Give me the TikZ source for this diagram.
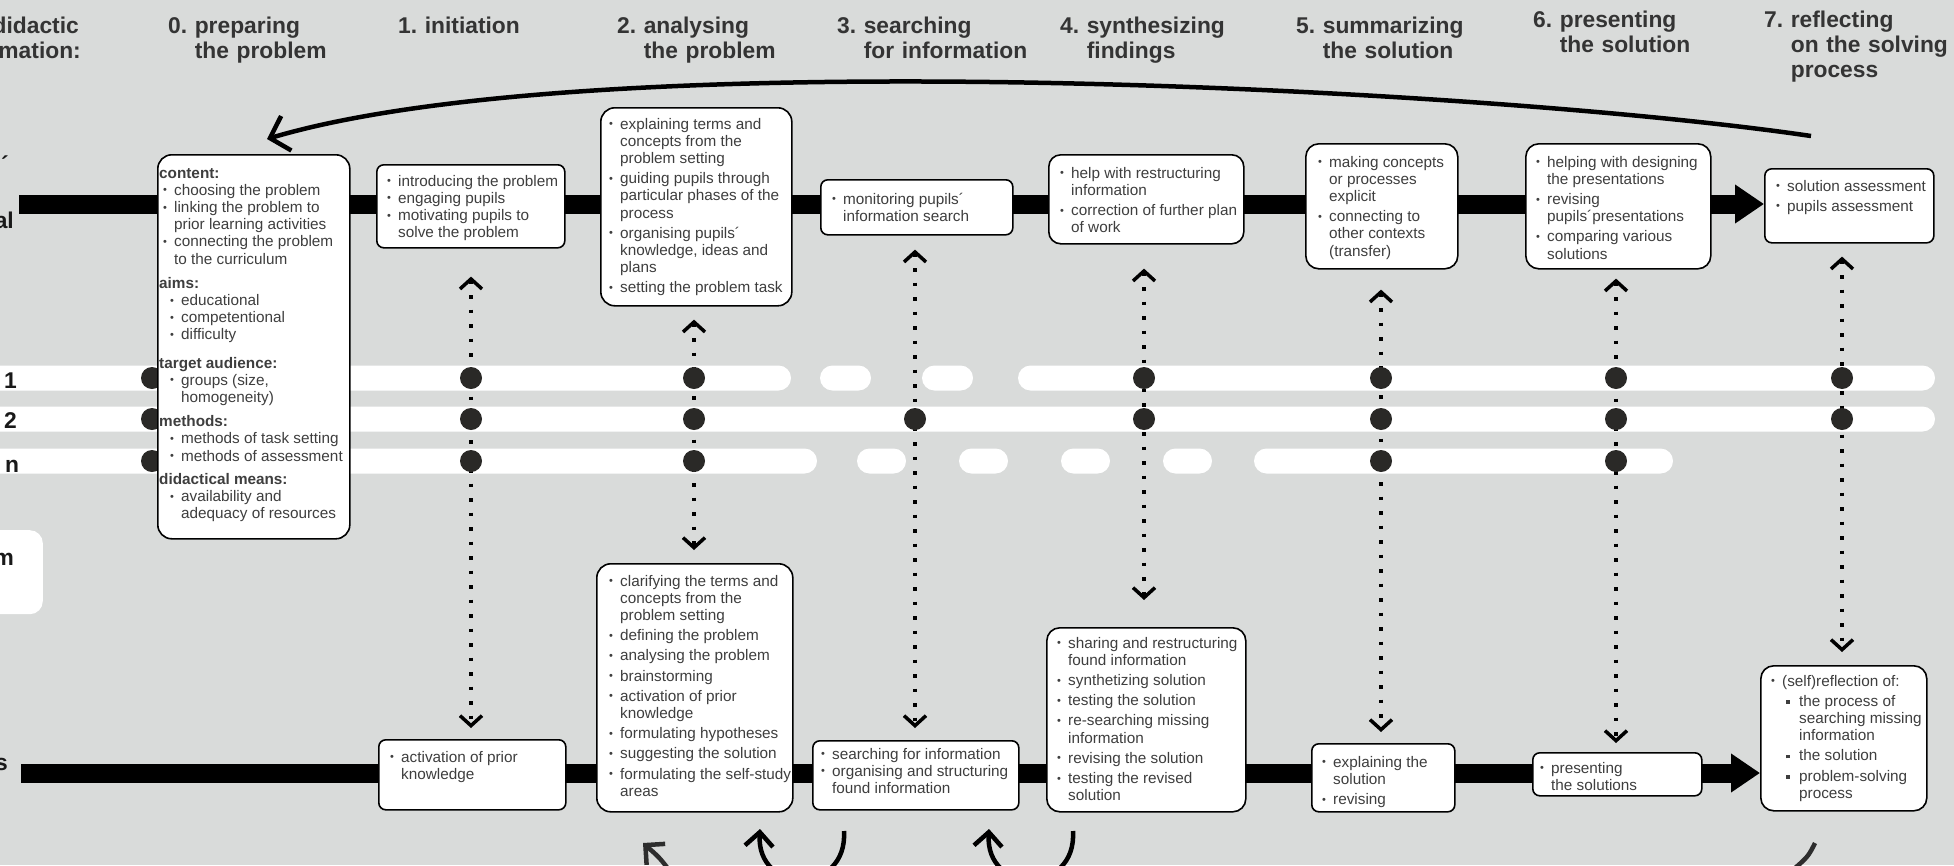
\documentclass[tikz,border=0pt]{standalone}
\usepackage{fontspec}
\setmainfont{Liberation Sans}
\usepackage{graphicx}
\usetikzlibrary{arrows.meta}
\frenchspacing
\definecolor{bgc}{RGB}{217,219,218}
\definecolor{txtc}{RGB}{62,62,62}
\definecolor{hdrc}{RGB}{52,52,52}
\definecolor{dotc}{RGB}{42,41,39}
\definecolor{arcc}{RGB}{45,45,45}
\pgfdeclarelayer{back}
\pgfdeclarelayer{mid}
\pgfsetlayers{back,mid,main}
\newcommand\bt{\makebox[11pt][l]{\raisebox{1.3pt}{\scalebox{0.72}{\textbullet}}}}
\newcommand\itmx[2]{\par\hangindent=\dimexpr#1+11pt\relax\hangafter=1\noindent\hspace*{#1}\bt#2}
\newcommand\itm[1]{\itmx{0pt}{#1}}
\newcommand\sitm[1]{\par\hangindent=28pt\hangafter=1\noindent\hspace*{15pt}\makebox[13pt][l]{\rule[2.5pt]{3.5pt}{3.5pt}}#1}
\newcommand\hd[1]{\par\noindent\textbf{#1}}
\newcommand\gp[1][3pt]{\par\vspace{#1}}
\newcommand\nl{\hfil\break}
\newcommand\bxt[1]{\parbox[t]{230pt}{\raggedright\hbadness=10000 #1}}
\begin{document}
\begin{tikzpicture}[x=1pt,y=-1pt,
  pbox/.style={draw=black, line width=1.6pt, fill=white, inner sep=0pt, anchor=north west, rounded corners=#1},
  pbox/.default=13pt,
  btxt/.style={inner sep=0pt, anchor=base west, text=txtc, font=\fontsize{15.3}{17.2}\selectfont},
  hdr/.style={inner sep=0pt, anchor=base west, text width=260pt, align=left, text=hdrc, font=\bfseries\fontsize{22.8}{25}\selectfont},
  sidelbl/.style={inner sep=0pt, text=black!90, font=\bfseries\fontsize{22.8}{25}\selectfont},
  dotn/.style={circle, fill=dotc, inner sep=0pt, minimum size=22pt},
  band/.style={fill=white, rounded corners=12.5pt},
  dotconn/.style={line width=3.5pt, dash pattern=on 3.5pt off 11pt, arrows={Straight Barb[length=10pt,width=22pt]-Straight Barb[length=10pt,width=22pt]}},
  tlbar/.style={line width=19pt, arrows={-Triangle[length=29pt,width=37pt]}},
  bigarc/.style={line width=4.5pt, arrows={-Straight Barb[length=17pt,width=36pt]}},
  barb/.style={line width=4.5pt, arrows={-Straight Barb[length=14pt,width=28pt]}}
]
\useasboundingbox (0,0) rectangle (1954,865);
\begin{pgfonlayer}{back}
\fill[bgc] (0,0) rectangle (1954,865);
\end{pgfonlayer}

% columns and rows
\coordinate (c0) at (152,0);
\coordinate (c1) at (471,0);
\coordinate (c2) at (694,0);
\coordinate (c3) at (915,0);
\coordinate (c4) at (1144,0);
\coordinate (c5) at (1381,0);
\coordinate (c6) at (1616,0);
\coordinate (c7) at (1842,0);
\coordinate (r1) at (0,378);
\coordinate (r2) at (0,419);
\coordinate (rn) at (0,461);

% boxes
\node[pbox=14pt, minimum width=192pt, minimum height=384pt] (t0) at (157,154) {};
\node[pbox=7pt, minimum width=188pt, minimum height=83pt] (t1) at (376,164) {};
\node[pbox=14pt, minimum width=191pt, minimum height=198pt] (t2) at (600,107) {};
\node[pbox=7pt, minimum width=192pt, minimum height=55pt] (t3) at (820,179) {};
\node[pbox=12pt, minimum width=195pt, minimum height=89pt] (t4) at (1048,154) {};
\node[pbox=13pt, minimum width=152pt, minimum height=125pt] (t5) at (1305,143) {};
\node[pbox=13pt, minimum width=185pt, minimum height=125pt] (t6) at (1525,143) {};
\node[pbox=7pt, minimum width=169pt, minimum height=74pt] (t7) at (1764,168) {};
\node[pbox=7pt, minimum width=187pt, minimum height=70pt] (b1) at (378,739) {};
\node[pbox=14pt, minimum width=196pt, minimum height=248pt] (b2) at (596,563) {};
\node[pbox=7pt, minimum width=206pt, minimum height=69pt] (b3) at (812,740) {};
\node[pbox=13pt, minimum width=199pt, minimum height=184pt] (b4) at (1046,627) {};
\node[pbox=7pt, minimum width=143pt, minimum height=68pt] (b5) at (1311,743) {};
\node[pbox=7pt, minimum width=169pt, minimum height=43pt] (b6) at (1532,752) {};
\node[pbox=13pt, minimum width=166pt, minimum height=145pt] (b7) at (1760,665) {};

\begin{pgfonlayer}{mid}
% left white box
\node[fill=white, rounded corners=13pt, minimum width=90pt, minimum height=84pt, anchor=north east, inner sep=0pt] (lbox) at (43,530) {};
% bands
\fill[band] (-40,365.5) rectangle (791,390.5);
\fill[band] (820,365.5) rectangle (871,390.5);
\fill[band] (922,365.5) rectangle (973,390.5);
\fill[band] (1018,365.5) rectangle (1935,390.5);
\fill[band] (-40,406.5) rectangle (1935,431.5);
\fill[band] (-40,448.5) rectangle (817,473.5);
\fill[band] (857,448.5) rectangle (906,473.5);
\fill[band] (959,448.5) rectangle (1008,473.5);
\fill[band] (1061,448.5) rectangle (1110,473.5);
\fill[band] (1163,448.5) rectangle (1212,473.5);
\fill[band] (1254,448.5) rectangle (1673,473.5);
% dotted connectors
\draw[dotconn, shorten <=28pt, shorten >=11pt] (t1.south -| c1) -- (b1.north -| c1);
\draw[dotconn, shorten <=13pt, shorten >=13pt] (t2.south -| c2) -- (b2.north -| c2);
\draw[dotconn, shorten <=14pt, shorten >=12pt] (t3.south -| c3) -- (b3.north -| c3);
\draw[dotconn, shorten <=24pt, shorten >=27pt] (t4.south -| c4) -- (b4.north -| c4);
\draw[dotconn, shorten <=20pt, shorten >=11pt] (t5.south -| c5) -- (b5.north -| c5);
\draw[dotconn, shorten <=9pt, shorten >=9pt] (t6.south -| c6) -- (b6.north -| c6);
\draw[dotconn, shorten <=13pt, shorten >=13pt] (t7.south -| c7) -- (b7.north -| c7);
% dots
\foreach \c in {0,1,2,4,5,6,7} { \node[dotn] (d1\c) at (c\c |- r1) {}; }
\foreach \c in {0,1,2,3,4,5,6,7} { \node[dotn] (d2\c) at (c\c |- r2) {}; }
\foreach \c in {0,1,2,5,6} { \node[dotn] (dn\c) at (c\c |- rn) {}; }
% timeline bars
\coordinate (tbs) at (19,204);
\coordinate (bbs) at (21,773);
\draw[tlbar] (tbs) -- (t7.west |- tbs);
\draw[tlbar] (bbs) -- (b7.west |- bbs);
\end{pgfonlayer}

% box texts
\node[btxt] (t0x) at (159,178) {\bxt{\hd{content:}
\itmx{4pt}{choosing the problem}
\itmx{4pt}{linking the problem to\nl prior learning activities}
\itmx{4pt}{connecting the problem\nl to the curriculum}
\gp[7pt]\hd{aims:}
\itmx{11pt}{educational}
\itmx{11pt}{competentional}
\itmx{11pt}{difficulty}
\gp[11pt]\hd{target audience:}
\itmx{11pt}{groups (size,\nl homogeneity)}
\gp[7pt]\hd{methods:}
\itmx{11pt}{methods of task setting}
\itmx{11pt}{methods of assessment}
\gp[6pt]\hd{didactical means:}
\itmx{11pt}{availability and\nl adequacy of resources}}};
\node[btxt] (t1x) at (387,186) {\bxt{\itm{introducing the problem}\itm{engaging pupils}\itm{motivating pupils to\nl solve the problem}}};
\node[btxt] (t2x) at (609,129) {\bxt{\itm{explaining terms and\nl concepts from the\nl problem setting}\gp\itm{guiding pupils through\nl particular phases of the\nl process}\gp\itm{organising pupils´\nl knowledge, ideas and\nl plans}\gp\itm{setting the problem task}}};
\node[btxt] (t3x) at (832,204) {\bxt{\itm{monitoring pupils´\nl information search}}};
\node[btxt] (t4x) at (1060,178) {\bxt{\itm{help with restructuring\nl information}\gp\itm{correction of further plan\nl of work}}};
\node[btxt] (t5x) at (1318,167) {\bxt{\itm{making concepts\nl or processes\nl explicit}\gp\itm{connecting to\nl other contexts\nl (transfer)}}};
\node[btxt] (t6x) at (1536,167) {\bxt{\itm{helping with designing\nl the presentations}\gp\itm{revising\nl pupils´presentations}\gp\itm{comparing various\nl solutions}}};
\node[btxt] (t7x) at (1776,191) {\bxt{\itm{solution assessment}\gp\itm{pupils assessment}}};
\node[btxt] (b1x) at (390,762) {\bxt{\itm{activation of prior\nl knowledge}}};
\node[btxt] (b2x) at (609,586) {\bxt{\itm{clarifying the terms and\nl concepts from the\nl problem setting}\gp\itm{defining the problem}\gp\itm{analysing the problem}\gp\itm{brainstorming}\gp\itm{activation of prior\nl knowledge}\gp\itm{formulating hypotheses}\gp\itm{suggesting the solution}\gp\itm{formulating the self-study\nl areas}}};
\node[btxt] (b3x) at (821,759) {\bxt{\itm{searching for information}\itm{organising and structuring\nl found information}}};
\node[btxt] (b4x) at (1057,648) {\bxt{\itm{sharing and restructuring\nl found information}\gp\itm{synthetizing solution}\gp\itm{testing the solution}\gp\itm{re-searching missing\nl information}\gp\itm{revising the solution}\gp\itm{testing the revised\nl solution}}};
\node[btxt] (b5x) at (1322,767) {\bxt{\itm{explaining the\nl solution}\gp\itm{revising}}};
\node[btxt] (b6x) at (1540,773) {\bxt{\itm{presenting\nl the solutions}}};
\node[btxt] (b7x) at (1771,686) {\bxt{\itm{(self)reflection of:}\gp\sitm{the process of\nl searching missing\nl information}\gp\sitm{the solution}\gp\sitm{problem-solving\nl process}}};

% headers
\node[hdr] (h0) at (168,33) {0. preparing\nl\phantom{0. }the problem};
\node[hdr] (h1) at (398,33) {1. initiation};
\node[hdr] (h2) at (617,33) {2. analysing\nl\phantom{2. }the problem};
\node[hdr] (h3) at (837,33) {3. searching\nl\phantom{3. }for information};
\node[hdr] (h4) at (1060,33) {4. synthesizing\nl\phantom{4. }findings};
\node[hdr] (h5) at (1296,33) {5. summarizing\nl\phantom{5. }the solution};
\node[hdr] (h6) at (1533,27) {6. presenting\nl\phantom{6. }the solution};
\node[hdr] (h7) at (1764,27) {7. reflecting\nl\phantom{7. }on the solving\nl\phantom{7. }process};

% side labels
\node[sidelbl, text=hdrc, anchor=base east] (ldid) at (79,33) {didactic};
\node[sidelbl, text=hdrc, anchor=base east] (lmat) at (81,58) {mation:};
\node[sidelbl, anchor=base] (lacc) at (5,172) {´};
\node[sidelbl, anchor=base east] (lal) at (14,228) {al};
\node[sidelbl, anchor=base west] (l1) at (4,388) {1};
\node[sidelbl, anchor=base west] (l2) at (4,428) {2};
\node[sidelbl, anchor=base west] (ln) at (5,472) {n};
\node[sidelbl, anchor=base east] (lm) at (14,565) {m};
\node[sidelbl, anchor=base east] (ls) at (8,770) {s};

% big loop arrow
\coordinate (lpS) at (1811,136);
\coordinate (lpE) at (267,139);
\draw[bigarc] (lpS) .. controls (1500,90) and (600,40) .. (lpE);

% bottom arcs
\coordinate (a1s) at (672,874);
\coordinate (a1e) at (643,843);
\draw[barb, arcc] (a1s) .. controls (660,858) .. (a1e);
\coordinate (a2s) at (844,831);
\coordinate (a2e) at (760,829);
\draw[barb] (a2s) .. controls (848,895) and (756,895) .. (a2e);
\coordinate (a3s) at (1073,831);
\coordinate (a3e) at (989,829);
\draw[barb] (a3s) .. controls (1077,895) and (985,895) .. (a3e);
\coordinate (a4s) at (1815,843);
\coordinate (a4e) at (1788,874);
\draw[line width=4.5pt, arcc] (a4s) .. controls (1808,857) .. (a4e);
\end{tikzpicture}
\end{document}
